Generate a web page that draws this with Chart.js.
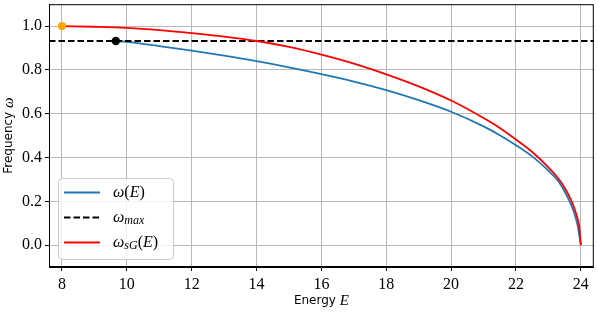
<!DOCTYPE html>
<html>
<head>
<meta charset="utf-8">
<script src="https://cdn.jsdelivr.net/npm/chart.js@4.4.0/dist/chart.umd.min.js"></script>
<style>
  html, body { margin: 0; padding: 0; background: #fff; }
  #wrap { width: 598px; height: 312px; }
</style>
</head>
<body>
<div id="wrap"><canvas id="chart" width="598" height="312"></canvas></div>
<script>
// values
const energyW = [9.66, 10, 11, 12, 13, 14, 15, 16, 17, 18, 19, 20, 21, 21.5, 22, 22.5, 23, 23.3, 23.5, 23.7, 23.8, 23.9, 24];
const omegaW = [0.932, 0.928, 0.909, 0.888, 0.865, 0.840, 0.812, 0.781, 0.747, 0.708, 0.662, 0.609, 0.542, 0.502, 0.456, 0.405, 0.340, 0.293, 0.245, 0.185, 0.145, 0.090, 0];

const energySG = [8, 9, 10, 11, 12, 13, 14, 15, 16, 17, 18, 19, 20, 21, 21.5, 22, 22.5, 23, 23.3, 23.5, 23.7, 23.8, 23.9, 23.95, 24];
const omegaSG = [1.0, 0.997, 0.992, 0.982, 0.968, 0.952, 0.932, 0.905, 0.870, 0.829, 0.780, 0.725, 0.660, 0.580, 0.535, 0.482, 0.425, 0.355, 0.305, 0.262, 0.205, 0.168, 0.120, 0.085, 0];

const omegaMax = 0.932;
const maxLineE = [7.6, 24.4];

// the two marked start points
const startSG = { x: 8, y: 1.0 };
const startW = { x: 9.66, y: 0.932 };

const xTicks = [8, 10, 12, 14, 16, 18, 20, 22, 24];
const yTicks = [0, 0.2, 0.4, 0.6, 0.8, 1.0];

function toPoints(xs, ys) {
    return xs.map((x, i) => ({ x: x, y: ys[i] }));
}

const serif = '"Liberation Serif", "DejaVu Serif", serif';
const sans = '"DejaVu Sans", sans-serif';

// draws a run of text pieces that use different fonts
function drawParts(ctx, parts, x, y, align) {
    let total = 0;
    parts.forEach((p) => {
        ctx.font = p.font;
        p.w = ctx.measureText(p.t).width;
        total += p.w;
    });
    let cx = align === 'center' ? x - total / 2 : x;
    parts.forEach((p) => {
        ctx.font = p.font;
        ctx.fillText(p.t, cx, y + (p.dy || 0));
        cx += p.w;
    });
}

const legendItems = [
    { color: '#1f77b4', dash: [], parts: [
        { t: 'ω', font: 'italic 16px ' + serif },
        { t: '(', font: '16px ' + serif },
        { t: 'E', font: 'italic 16px ' + serif },
        { t: ')', font: '16px ' + serif }] },
    { color: '#000000', dash: [6.5, 3], parts: [
        { t: 'ω', font: 'italic 16px ' + serif },
        { t: 'max', font: 'italic 12px ' + serif, dy: 3 }] },
    { color: '#ff0000', dash: [], parts: [
        { t: 'ω', font: 'italic 16px ' + serif },
        { t: 'sG', font: 'italic 12px ' + serif, dy: 3 },
        { t: '(', font: '16px ' + serif },
        { t: 'E', font: 'italic 16px ' + serif },
        { t: ')', font: '16px ' + serif }] }
];

const decorations = {
    id: 'decorations',
    afterDraw(chart) {
        const ctx = chart.ctx;
        const a = chart.chartArea;
        ctx.save();

        // frame round the plot
        ctx.strokeStyle = '#000';
        ctx.lineWidth = 1;
        ctx.strokeRect(a.left + 0.5, a.top + 0.5, a.right - a.left - 1, a.bottom - a.top - 1);

        // axis titles
        ctx.fillStyle = '#000';
        ctx.textBaseline = 'middle';
        drawParts(ctx, [
            { t: 'Energy ', font: '12px ' + sans },
            { t: 'E', font: 'italic 15px ' + serif }
        ], (a.left + a.right) / 2, 301, 'center');

        ctx.save();
        ctx.translate(9, (a.top + a.bottom) / 2);
        ctx.rotate(-Math.PI / 2);
        drawParts(ctx, [
            { t: 'Frequency ', font: '12px ' + sans },
            { t: 'ω', font: 'italic 15px ' + serif }
        ], 0, 0, 'center');
        ctx.restore();

        // legend box, lower left
        const bx = 58, by = 178, bw = 115, bh = 81, r = 4;
        ctx.beginPath();
        ctx.roundRect(bx + 0.5, by + 0.5, bw, bh, r);
        ctx.fillStyle = 'rgba(255,255,255,0.8)';
        ctx.fill();
        ctx.strokeStyle = '#cccccc';
        ctx.lineWidth = 1;
        ctx.stroke();

        legendItems.forEach((item, i) => {
            const ly = 192.5 + i * 25;
            ctx.beginPath();
            ctx.setLineDash(item.dash);
            ctx.strokeStyle = item.color;
            ctx.lineWidth = 1.8;
            ctx.moveTo(64, ly);
            ctx.lineTo(100, ly);
            ctx.stroke();
            ctx.setLineDash([]);
            ctx.fillStyle = '#000';
            ctx.textBaseline = 'middle';
            drawParts(ctx, item.parts, 113, ly, 'left');
        });
        ctx.restore();
    }
};

const ctx = document.getElementById('chart').getContext('2d');
const myChart = new Chart(ctx, {
    type: 'line',
    data: {
        datasets: [
            {
                type: 'scatter',
                data: [startSG],
                pointRadius: 4.2,
                pointBackgroundColor: '#ffa500',
                pointBorderWidth: 0
            },
            {
                type: 'scatter',
                data: [startW],
                pointRadius: 4.2,
                pointBackgroundColor: '#000000',
                pointBorderWidth: 0
            },
            {
                data: toPoints(energySG, omegaSG),
                borderColor: '#ff0000',
                borderWidth: 1.8,
                pointRadius: 0,
                cubicInterpolationMode: 'monotone'
            },
            {
                data: toPoints(maxLineE, [omegaMax, omegaMax]),
                borderColor: '#000000',
                borderWidth: 1.8,
                borderDash: [6.5, 3],
                pointRadius: 0
            },
            {
                data: toPoints(energyW, omegaW),
                borderColor: '#1f77b4',
                borderWidth: 1.8,
                pointRadius: 0,
                cubicInterpolationMode: 'monotone'
            }
        ]
    },
    options: {
        responsive: false,
        animation: false,
        devicePixelRatio: 1,
        layout: { padding: { top: 2, right: 1, left: 0, bottom: 0 } },
        plugins: {
            legend: { display: false },
            tooltip: { enabled: false }
        },
        scales: {
            x: {
                type: 'linear',
                min: 7.6,
                max: 24.4,
                afterBuildTicks: (s) => { s.ticks = xTicks.map((v) => ({ value: v })); },
                afterFit: (s) => { s.height = 45; s.paddingLeft = 0; s.paddingRight = 0; },
                ticks: {
                    color: '#000',
                    padding: 4,
                    maxRotation: 0,
                    font: { family: serif, size: 16 },
                    callback: (v) => String(v)
                },
                grid: { color: '#b9b9b9', lineWidth: 1, tickColor: '#000', tickLength: 4 },
                border: { color: '#000', width: 1 }
            },
            y: {
                type: 'linear',
                min: -0.1,
                max: 1.1,
                afterBuildTicks: (s) => { s.ticks = yTicks.map((v) => ({ value: v })); },
                afterFit: (s) => { s.width = 49; s.paddingTop = 0; s.paddingBottom = 0; },
                ticks: {
                    color: '#000',
                    padding: 3,
                    font: { family: serif, size: 16 },
                    callback: (v) => v.toFixed(1)
                },
                grid: { color: '#b9b9b9', lineWidth: 1, tickColor: '#000', tickLength: 4 },
                border: { color: '#000', width: 1 }
            }
        }
    },
    plugins: [decorations]
});
</script>
</body>
</html>
